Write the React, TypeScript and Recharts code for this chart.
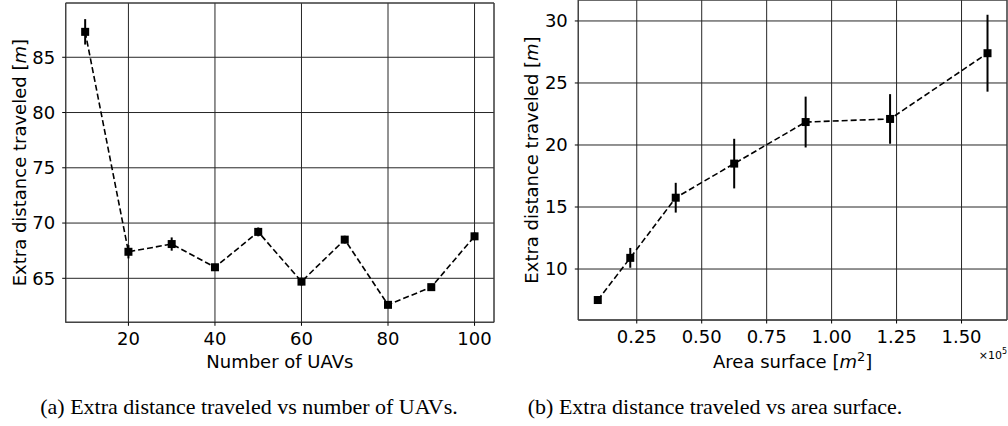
import React from "react";
import {
  LineChart,
  Line,
  XAxis,
  YAxis,
  CartesianGrid,
  ErrorBar,
  ReferenceArea,
  Label,
} from "recharts";

// ---------- data ----------
const UAV_COUNTS = [10, 20, 30, 40, 50, 60, 70, 80, 90, 100];
const EXTRA_DIST_UAV = [87.3, 67.4, 68.1, 66.0, 69.2, 64.7, 68.5, 62.6, 64.2, 68.8];
const EXTRA_DIST_UAV_ERR = [1.15, 0.6, 0.6, 0.3, 0.4, 0.35, 0.35, 0.3, 0.3, 0.35];
const UAV_X_TICKS = [20, 40, 60, 80, 100];
const UAV_Y_TICKS = [65, 70, 75, 80, 85];

const AREA_SURFACE = [0.1, 0.225, 0.4, 0.625, 0.9, 1.225, 1.6];
const EXTRA_DIST_AREA = [7.5, 10.9, 15.75, 18.5, 21.85, 22.1, 27.4];
const EXTRA_DIST_AREA_ERR = [0.3, 0.8, 1.2, 2.0, 2.05, 2.0, 3.1];
const AREA_X_TICKS = [0.25, 0.5, 0.75, 1.0, 1.25, 1.5];
const AREA_Y_TICKS = [10, 15, 20, 25, 30];

const uavData = UAV_COUNTS.map((x, i) => ({
  x,
  y: EXTRA_DIST_UAV[i],
  err: EXTRA_DIST_UAV_ERR[i],
}));
const areaData = AREA_SURFACE.map((x, i) => ({
  x,
  y: EXTRA_DIST_AREA[i],
  err: EXTRA_DIST_AREA_ERR[i],
}));

const FONT = "DejaVu Sans";
const FS = 18;
const GRID = "#262626";
const SPINE = "#444";

const squareDot = (props: any) => {
  const { cx, cy, index } = props;
  if (cx == null || cy == null) return <g key={`d-${index}`} />;
  const s = 8;
  return <rect key={`d-${index}`} x={cx - s / 2} y={cy - s / 2} width={s} height={s} fill="#000" />;
};

const tickStyle = { fontFamily: FONT, fontSize: FS, fill: "#000" };

const YLabel = ({ viewBox, xPos }: any) => {
  const cy = viewBox.y + viewBox.height / 2;
  return (
    <text
      x={xPos}
      y={cy}
      transform={`rotate(-90, ${xPos}, ${cy})`}
      textAnchor="middle"
      fontFamily={FONT}
      fontSize={FS}
      fill="#000"
    >
      Extra distance traveled [<tspan fontStyle="italic">m</tspan>]
    </text>
  );
};

const App = () => {
  return (
    <div
      style={{
        position: "absolute",
        left: 0,
        top: 0,
        width: 1008,
        height: 426,
        background: "#fff",
        overflow: "hidden",
      }}
    >
      {/* Left chart */}
      <div style={{ position: "absolute", left: 0, top: 0 }}>
        <LineChart
          width={500}
          height={380}
          data={uavData}
          margin={{ top: 3, right: 6, bottom: 0, left: 0 }}
        >
          <CartesianGrid stroke={GRID} strokeWidth={1} />
          <XAxis
            dataKey="x"
            type="number"
            domain={[5.5, 104.5]}
            ticks={UAV_X_TICKS}
            allowDataOverflow
            height={57.7}
            tickSize={3.5}
            tickMargin={6.5}
            tick={tickStyle}
            stroke={SPINE}
            tickLine={{ stroke: "#000" }}
            interval={0}
          >
            <Label
              content={({ viewBox }: any) => (
                <text
                  x={viewBox.x + viewBox.width / 2}
                  y={viewBox.y + 45.4}
                  textAnchor="middle"
                  fontFamily={FONT}
                  fontSize={FS}
                  fill="#000"
                >
                  Number of UAVs
                </text>
              )}
            />
          </XAxis>
          <YAxis
            dataKey="y"
            type="number"
            domain={[61.02, 89.91]}
            ticks={UAV_Y_TICKS}
            allowDataOverflow
            width={65.7}
            tickSize={3.5}
            tickMargin={7}
            tick={tickStyle}
            stroke={SPINE}
            tickLine={{ stroke: "#000" }}
            interval={0}
          >
            <Label content={(p: any) => <YLabel viewBox={p.viewBox} xPos={26.5} />} />
          </YAxis>
          <ReferenceArea
            x1={5.5}
            x2={104.5}
            y1={61.02}
            y2={89.91}
            fill="none"
            stroke={SPINE}
            strokeWidth={1}
            ifOverflow="visible"
          />
          <Line
            dataKey="y"
            stroke="#000"
            strokeWidth={1.6}
            strokeDasharray="6 3"
            dot={squareDot}
            activeDot={false}
            isAnimationActive={false}
          >
            <ErrorBar dataKey="err" direction="y" width={0} stroke="#000" strokeWidth={2} />
          </Line>
        </LineChart>
      </div>

      {/* Right chart */}
      <div style={{ position: "absolute", left: 500, top: 0 }}>
        <LineChart
          width={508}
          height={380}
          data={areaData}
          margin={{ top: 0, right: 1, bottom: 0, left: 0 }}
        >
          <CartesianGrid stroke={GRID} strokeWidth={1} />
          <XAxis
            dataKey="x"
            type="number"
            domain={[0.025, 1.675]}
            ticks={AREA_X_TICKS}
            allowDataOverflow
            height={60}
            tickSize={3.5}
            tickMargin={6.5}
            tick={tickStyle}
            tickFormatter={(v: number) => v.toFixed(2)}
            stroke={SPINE}
            tickLine={{ stroke: "#000" }}
            interval={0}
          >
            <Label
              content={({ viewBox }: any) => (
                <g>
                  <text
                    x={viewBox.x + viewBox.width / 2}
                    y={viewBox.y + 48}
                    textAnchor="middle"
                    fontFamily={FONT}
                    fontSize={FS}
                    fill="#000"
                  >
                    Area surface [<tspan fontStyle="italic">m</tspan>
                    <tspan dy={-7} fontSize={13}>2</tspan>
                    <tspan dy={7}>]</tspan>
                  </text>
                  <text
                    x={viewBox.x + viewBox.width}
                    y={viewBox.y + 39}
                    textAnchor="end"
                    fontFamily={FONT}
                    fontSize={11}
                    fill="#000"
                  >
                    ×10<tspan dy={-5} fontSize={8}>5</tspan>
                  </text>
                </g>
              )}
            />
          </XAxis>
          <YAxis
            dataKey="y"
            type="number"
            domain={[5.89, 31.69]}
            ticks={AREA_Y_TICKS}
            allowDataOverflow
            width={78.3}
            tickSize={3.5}
            tickMargin={7}
            tick={tickStyle}
            stroke={SPINE}
            tickLine={{ stroke: "#000" }}
            interval={0}
          >
            <Label content={(p: any) => <YLabel viewBox={p.viewBox} xPos={38} />} />
          </YAxis>
          <ReferenceArea
            x1={0.025}
            x2={1.675}
            y1={5.89}
            y2={31.69}
            fill="none"
            stroke={SPINE}
            strokeWidth={1}
            ifOverflow="visible"
          />
          <Line
            dataKey="y"
            stroke="#000"
            strokeWidth={1.6}
            strokeDasharray="6 3"
            dot={squareDot}
            activeDot={false}
            isAnimationActive={false}
          >
            <ErrorBar dataKey="err" direction="y" width={0} stroke="#000" strokeWidth={2} />
          </Line>
        </LineChart>
      </div>

      {/* Captions */}
      <div
        style={{
          position: "absolute",
          left: 0,
          width: 498,
          top: 393,
          textAlign: "center",
          fontFamily: "Liberation Serif",
          fontSize: 22,
          lineHeight: "27px",
          color: "#000",
          whiteSpace: "nowrap",
        }}
      >
        (a) Extra distance traveled vs number of UAVs.
      </div>
      <div
        style={{
          position: "absolute",
          left: 500,
          width: 430,
          top: 393,
          textAlign: "center",
          fontFamily: "Liberation Serif",
          fontSize: 22,
          lineHeight: "27px",
          color: "#000",
          whiteSpace: "nowrap",
        }}
      >
        (b) Extra distance traveled vs area surface.
      </div>
    </div>
  );
};

export default App;
